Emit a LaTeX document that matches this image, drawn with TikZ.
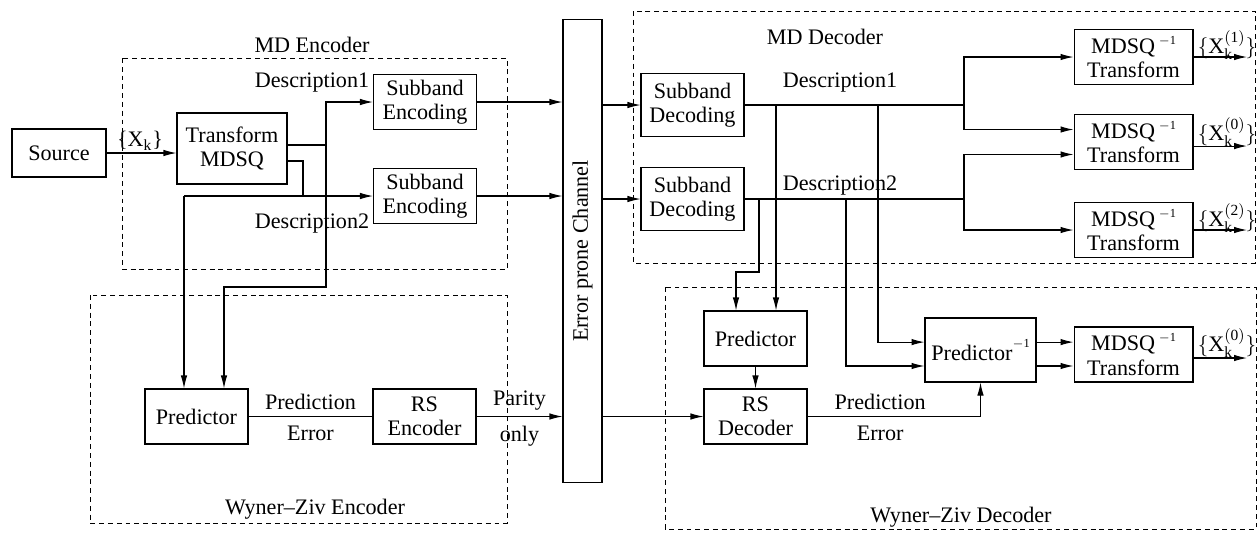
\documentclass[tikz,border=0pt]{standalone}
\usepackage{fontspec}
\setmainfont{Liberation Serif}
\usetikzlibrary{arrows.meta}

\begin{document}
\begin{tikzpicture}[x=0.02cm, y=-0.02cm,
  font=\fontsize{12.6}{13.8}\selectfont,
  line width=0.6pt, >={Latex[length=2.6mm,width=1.3mm]},
  blk/.style={draw, align=center, inner sep=1pt, minimum width=2.06cm, minimum height=1.1cm},
  region/.style={draw, dash pattern=on 2.8pt off 2.2pt, line width=0.5pt}]
\useasboundingbox (0,0) rectangle (1257,532);
%% regions
\draw[region] (122,58) rectangle (507,269);
\draw[region] (90,295) rectangle (507,523);
\draw[region] (633,11) rectangle (1255,263);
\draw[region] (665,287) rectangle (1256,529);
\node (mdenc) at (312,45) {MD Encoder};
\node (wzenc) at (315,509) {Wyner--Ziv Encoder};
\node (mddec) at (825,37) {MD Decoder};
\node (wzdec) at (961,517) {Wyner--Ziv Decoder};
%% blocks
\node[blk, minimum width=1.88cm, minimum height=0.96cm] (src) at (59,153) {Source};
\node[blk, minimum width=2.2cm, minimum height=1.42cm] (tfm) at (232,148.5) {Transform\\MDSQ};
\node[blk] (senc1) at (425,102) {Subband\\Encoding};
\node[blk] (senc2) at (425,196) {Subband\\Encoding};
\node[blk] (predE) at (196.5,416.5) {Predictor};
\node[blk] (rsE) at (424.5,416.5) {RS\\Encoder};
\node[draw, minimum width=0.78cm, minimum height=9.28cm] (chan) at (582.5,251) {};
\node[rotate=90] (chanlbl) at (chan) {Error prone Channel};
\node[blk, minimum height=1.26cm] (sdec1) at (692.5,105) {Subband\\Decoding};
\node[blk, minimum height=1.26cm] (sdec2) at (692.5,199) {Subband\\Decoding};
\node[blk, minimum width=2.38cm] (mdsq1) at (1133.5,57) {MDSQ\,\raisebox{0.9ex}{\scriptsize$-$1}\\Transform};
\node[blk, minimum width=2.38cm] (mdsq2) at (1133.5,142) {MDSQ\,\raisebox{0.9ex}{\scriptsize$-$1}\\Transform};
\node[blk, minimum width=2.38cm] (mdsq3) at (1133.5,230) {MDSQ\,\raisebox{0.9ex}{\scriptsize$-$1}\\Transform};
\node[blk] (predD) at (755.5,338.5) {Predictor};
\node[blk] (rsD) at (755.5,416.5) {RS\\Decoder};
\node[blk, minimum width=2.22cm, minimum height=1.28cm] (pinv) at (980.5,350) {Predictor\raisebox{1.3ex}{\scriptsize$-$1}};
\node[blk, minimum width=2.38cm] (mdsq4) at (1133.5,354.5) {MDSQ\,\raisebox{0.9ex}{\scriptsize$-$1}\\Transform};
%% encoder links
\draw[->] (src.east) -- (src.east -| tfm.west);
\node (xk) at (140,141) {\{X$_{\mathrm{k}}$\}};
\coordinate (t1) at ([yshift=2pt]tfm.east);
\coordinate (t2) at ([yshift=-7.1pt]tfm.east);
\coordinate (j1) at (t1 -| 326,0);
\coordinate (j2) at (senc2.west -| 184,0);
\coordinate (e1) at (224,287);
\draw (t1) -- (j1);
\draw[->] (j1) |- (senc1.west);
\draw[->] (j1) |- (e1) -- (e1 |- predE.north);
\draw (t2) -| (j2 -| 303,0);
\draw[->] (j2) -- (senc2.west);
\draw[->] (j2) -- (j2 |- predE.north);
\node (desc1E) at (312,83) {Description1};
\node (desc2E) at (312,224) {Description2};
\draw[->] (senc1.east) -- (senc1.east -| chan.west);
\draw[->] (senc2.east) -- (senc2.east -| chan.west);
\draw (predE.east) -- (rsE.west) node[midway, above] {Prediction} node[midway, below=2pt] {Error};
\draw[->] (rsE.east) -- (rsE.east -| chan.west) node[midway, above] {Parity} node[midway, below=2pt] {only};
%% channel to decoder
\draw[->] (sdec1.west -| chan.east) -- (sdec1.west);
\draw[->] (sdec2.west -| chan.east) -- (sdec2.west);
\draw[->] (rsD.west -| chan.east) -- (rsD.west);
%% MD decoder
\coordinate (s1) at (sdec1.east -| 964,0);
\coordinate (s2) at (sdec2.east -| 964,0);
\coordinate (m2a) at ([yshift=7.1pt]mdsq2.west);
\coordinate (m2b) at ([yshift=-7.1pt]mdsq2.west);
\draw (sdec1.east) -- (s1);
\draw (sdec2.east) -- (s2);
\draw[->] (s1) |- (mdsq1.west);
\draw[->] (s1) |- (m2a);
\draw[->] (s2) |- (m2b);
\draw[->] (s2) |- (mdsq3.west);
\node (desc1D) at (840,83) {Description1};
\node (desc2D) at (840,186) {Description2};
%% Wyner-Ziv decoder
\coordinate (d1) at (sdec1.east -| 776,0);
\coordinate (d2) at (sdec2.east -| 759,0);
\coordinate (d2b) at (736,272);
\coordinate (d3) at (sdec1.east -| 878,0);
\coordinate (d4) at (sdec2.east -| 846,0);
\coordinate (p1) at ([yshift=4.5pt]pinv.west);
\coordinate (p2) at ([yshift=-9.1pt]pinv.west);
\coordinate (q1) at ([yshift=4.5pt]pinv.east);
\coordinate (q2) at ([yshift=-9.1pt]pinv.east);
\draw[->] (d1) -- (d1 |- predD.north);
\draw[->] (d2) |- (d2b) -- (d2b |- predD.north);
\draw[->] (d3) |- (p1);
\draw[->] (d4) |- (p2);
\draw[->] (predD) -- (rsD);
\draw[->] (rsD.east) -| (pinv.south) node[pos=0.21, above] {Prediction} node[pos=0.21, below=2pt] {Error};
\draw[->] (q1) -- (q1 -| mdsq4.west);
\draw[->] (q2) -- (q2 -| mdsq4.west);
%% outputs
\coordinate (xout) at (1247,0);
\coordinate (o2) at ([yshift=-2.3pt]mdsq2.east);
\coordinate (o4) at ([yshift=-2pt]mdsq4.east);
\draw[->] (mdsq1.east) -- (mdsq1.east -| xout);
\draw[->] (o2) -- (o2 -| xout);
\draw[->] (mdsq3.east) -- (mdsq3.east -| xout);
\draw[->] (o4) -- (o4 -| xout);
\node (x1) at (1227,45) {$\{\mathrm{X}^{\mathrm{(1)}}_{\mathrm{k}}\}$};
\node (x0) at (1227,132) {$\{\mathrm{X}^{\mathrm{(0)}}_{\mathrm{k}}\}$};
\node (x2) at (1227,218) {$\{\mathrm{X}^{\mathrm{(2)}}_{\mathrm{k}}\}$};
\node (x0b) at (1227,343) {$\{\mathrm{X}^{\mathrm{(0)}}_{\mathrm{k}}\}$};
\end{tikzpicture}
\end{document}
